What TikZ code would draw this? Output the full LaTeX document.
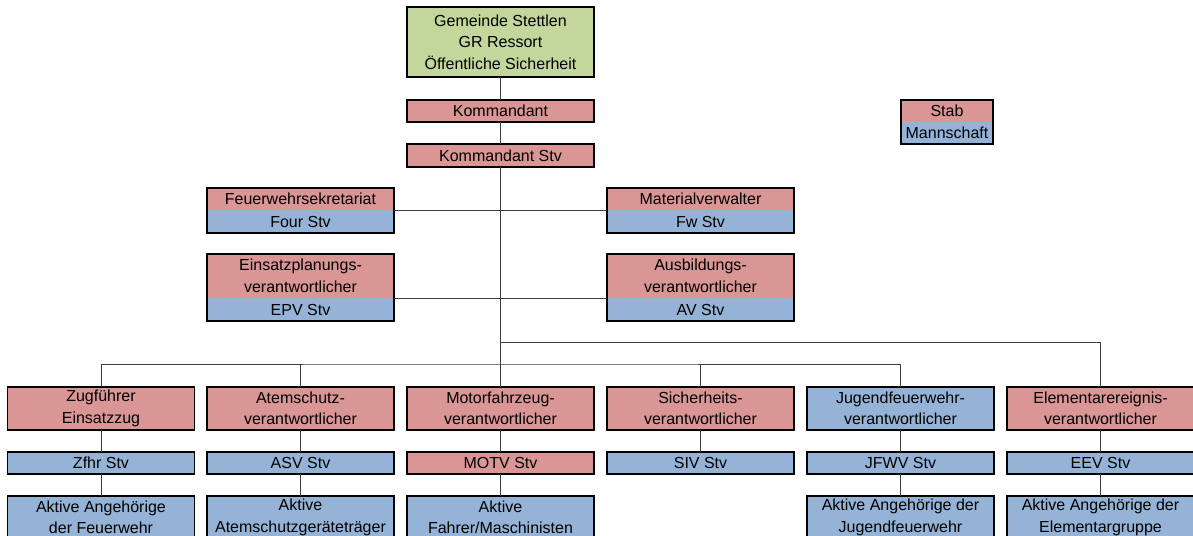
\documentclass[tikz,border=0pt]{standalone}
\usepackage{fontspec}
\setmainfont{Liberation Sans}
\definecolor{gr}{RGB}{195,214,155}
\definecolor{rd}{RGB}{217,150,148}
\definecolor{bl}{RGB}{149,179,215}
\definecolor{ln}{RGB}{60,60,60}
\begin{document}
\begin{tikzpicture}[x=1pt,y=-1pt,
  cell/.style={inner sep=0pt, outer sep=0pt, align=center, text=black,
    font=\fontsize{16}{21.5}\selectfont, minimum width=187pt},
  framed/.style={draw=black, line width=1.8pt},
  wire/.style={draw=ln, line width=1pt}]
\path[use as bounding box, clip] (0,0) rectangle (1193,535);
\fill[white] (0,0) rectangle (1193,535);

% top
\node[cell,framed,fill=gr,minimum height=70pt] (gem) at (500.5,42) {Gemeinde Stettlen\\GR Ressort\\Öffentliche Sicherheit};
\node[cell,framed,fill=rd,minimum height=22pt] (kom) at (500.5,111) {Kommandant};
\node[cell,framed,fill=rd,minimum height=23pt] (kstv) at (500.5,155.5) {Kommandant Stv};

% staff pairs
\node[cell,fill=rd,minimum height=22pt] (fsek) at (300.5,199) {Feuerwehrsekretariat};
\node[cell,fill=bl,minimum height=23pt] (four) at (300.5,221.5) {Four Stv};
\draw[framed] (fsek.north west) rectangle (four.south east);

\node[cell,fill=rd,minimum height=22pt] (matv) at (700.5,199) {Materialverwalter};
\node[cell,fill=bl,minimum height=23pt] (fw) at (700.5,221.5) {Fw Stv};
\draw[framed] (matv.north west) rectangle (fw.south east);

\node[cell,fill=rd,minimum height=44pt] (epl) at (300.5,276) {Einsatzplanungs-\\verantwortlicher};
\node[cell,fill=bl,minimum height=23pt] (epv) at (300.5,309.5) {EPV Stv};
\draw[framed] (epl.north west) rectangle (epv.south east);

\node[cell,fill=rd,minimum height=44pt] (ausb) at (700.5,276) {Ausbildungs-\\verantwortlicher};
\node[cell,fill=bl,minimum height=23pt] (av) at (700.5,309.5) {AV Stv};
\draw[framed] (ausb.north west) rectangle (av.south east);

% legend
\node[cell,fill=rd,minimum width=92pt,minimum height=22pt] (stab) at (947,111) {Stab};
\node[cell,fill=bl,minimum width=92pt,minimum height=22pt] (mann) at (947,133) {Mannschaft};
\draw[framed] (stab.north west) rectangle (mann.south east);

% row 1
\node[cell,framed,fill=rd,minimum height=43pt] (z1) at (101,408.5) {Zugführer\\Einsatzzug};
\node[cell,framed,fill=rd,minimum height=43pt] (a1) at (300.5,408.5) {Atemschutz-\\verantwortlicher};
\node[cell,framed,fill=rd,minimum height=43pt] (m1) at (500.5,408.5) {Motorfahrzeug-\\verantwortlicher};
\node[cell,framed,fill=rd,minimum height=43pt] (s1) at (700.5,408.5) {Sicherheits-\\verantwortlicher};
\node[cell,framed,fill=bl,minimum height=43pt] (j1) at (900.5,408.5) {Jugendfeuerwehr-\\verantwortlicher};
\node[cell,framed,fill=rd,minimum height=43pt] (e1) at (1100.5,408.5) {Elementarereignis-\\verantwortlicher};

% row 2
\node[cell,framed,fill=bl,minimum height=22pt] (z2) at (101,463) {Zfhr Stv};
\node[cell,framed,fill=bl,minimum height=22pt] (a2) at (300.5,463) {ASV Stv};
\node[cell,framed,fill=rd,minimum height=22pt] (m2) at (500.5,463) {MOTV Stv};
\node[cell,framed,fill=bl,minimum height=22pt] (s2) at (700.5,463) {SIV Stv};
\node[cell,framed,fill=bl,minimum height=22pt] (j2) at (900.5,463) {JFWV Stv};
\node[cell,framed,fill=bl,minimum height=22pt] (e2) at (1100.5,463) {EEV Stv};

% row 3
\node[cell,framed,fill=bl,minimum height=43pt] (z3) at (101,517.5) {Aktive Angehörige\\der Feuerwehr};
\node[cell,framed,fill=bl,minimum height=43pt] (a3) at (300.5,517.5) {Aktive\\Atemschutzgeräteträger};
\node[cell,framed,fill=bl,minimum height=43pt] (m3) at (500.5,517.5) {Aktive\\Fahrer/Maschinisten};
\node[cell,framed,fill=bl,minimum height=43pt] (j3) at (900.5,517.5) {Aktive Angehörige der\\Jugendfeuerwehr};
\node[cell,framed,fill=bl,minimum height=43pt] (e3) at (1100.5,517.5) {Aktive Angehörige der\\Elementargruppe};

% connectors
\coordinate (busA) at (500.5,364);
\coordinate (busB) at (500.5,342);
\draw[wire] (gem.south) -- (kom.north);
\draw[wire] (kom.south) -- (kstv.north);
\draw[wire] (kstv.south) -- (m1.north);
\draw[wire] (four.north east) -- (fw.north west);
\draw[wire] (epv.north east) -- (av.north west);
\draw[wire] (z1.north) |- (busA) -| (j1.north);
\draw[wire] (a1.north) -- (a1.north |- busA);
\draw[wire] (s1.north) -- (s1.north |- busA);
\draw[wire] (busB) -| (e1.north);
\foreach \c in {z,a,m,s,j,e} {\draw[wire] (\c1.south) -- (\c2.north);}
\foreach \c in {z,a,m,j,e} {\draw[wire] (\c2.south) -- (\c3.north);}
\end{tikzpicture}
\end{document}
